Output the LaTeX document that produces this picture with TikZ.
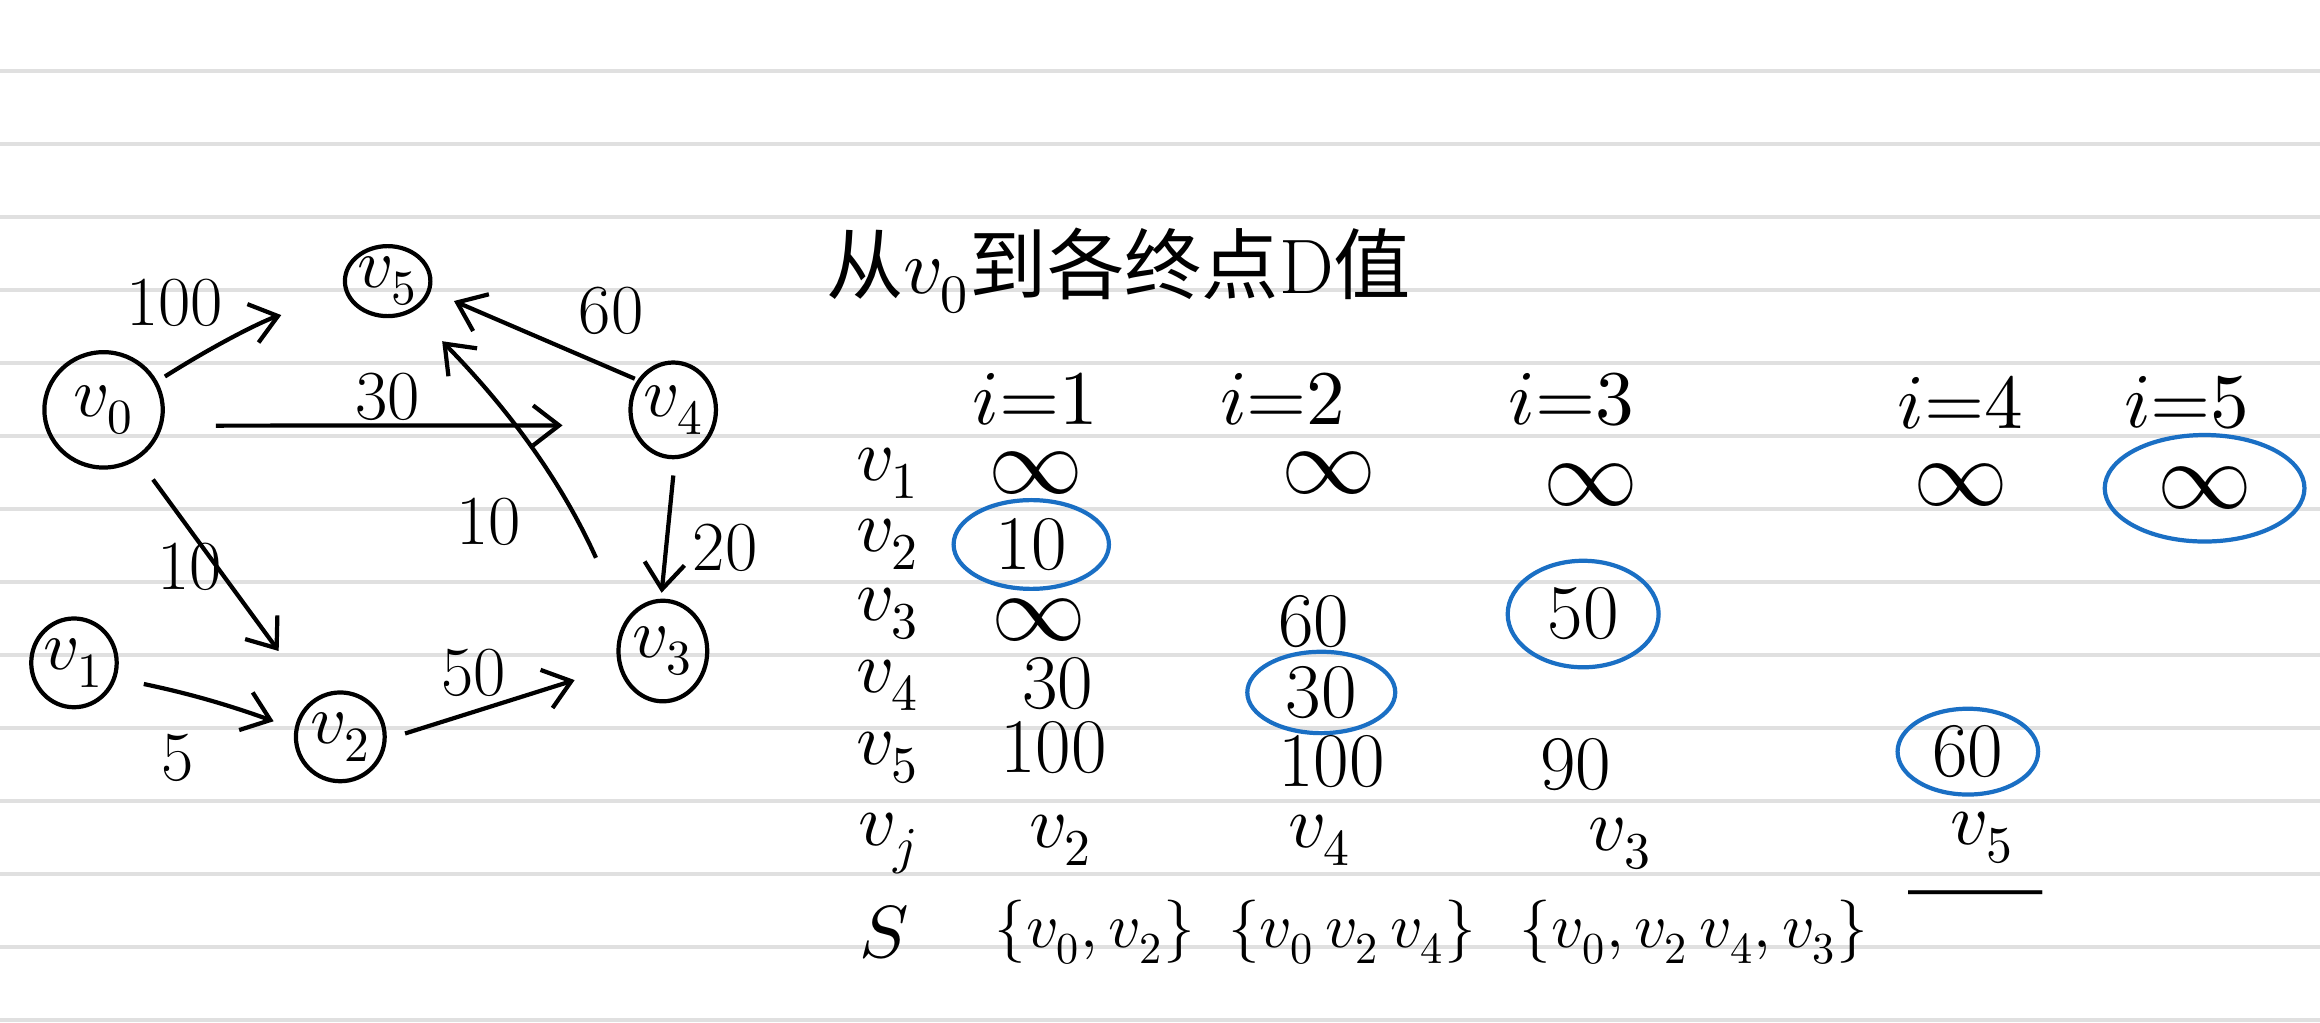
\documentclass[tikz,border=0pt]{standalone}
\usepackage{fontspec}
\usepackage{unicode-math}
\newfontfamily\cjk{Noto Sans CJK SC}
\usetikzlibrary{arrows.meta,shapes.geometric}
\newlength\pxu
\setlength\pxu{0.148mm}
\definecolor{hlblue}{HTML}{1A6FC4}
\definecolor{rulegray}{HTML}{E0E0E0}
\tikzset{
  vert/.style={draw, ellipse, line width=1.2pt, inner sep=0pt, font=\fontsize{20}{24}\selectfont},
  arr/.style={line width=1.2pt, -{Straight Barb[length=2.6mm,width=4mm,line width=1.2pt]}},
  lab/.style={inner sep=0pt, font=\fontsize{20}{24}\selectfont},
  cell/.style={inner sep=0pt, font=\fontsize{22}{26}\selectfont},
  setcell/.style={inner sep=0pt, font=\fontsize{18}{22}\selectfont},
  rowlab/.style={inner sep=0pt, font=\fontsize{21}{24}\selectfont},
  inf/.style={inner sep=0pt, font=\fontsize{27}{30}\selectfont},
  hl/.style={draw=hlblue, ellipse, line width=1.2pt},
  rule/.style={draw=rulegray, line width=0.4mm}
}
\begin{document}
\begin{tikzpicture}[x=\pxu, y=-\pxu]
\fill[white] (0,0) rectangle (1568,691);
\useasboundingbox (0,0) rectangle (1568,691);
\foreach \k in {0,...,13} {
  \draw[rule] (0,{48+49.34*\k}) -- (1568,{48+49.34*\k});
}
% graph nodes
\node[vert, minimum width=54\pxu, minimum height=46\pxu] (v5) at (262,190) {$v_5$};
\node[vert, minimum width=80\pxu, minimum height=78\pxu] (v0) at (70,277) {$v_0$};
\node[vert, minimum width=56\pxu, minimum height=64\pxu] (v4) at (455,277) {$v_4$};
\node[vert, minimum width=46\pxu, minimum height=60\pxu] (v1) at (50,448) {$v_1$};
\node[vert, minimum width=60\pxu, minimum height=60\pxu] (v2) at (230,498) {$v_2$};
\node[vert, minimum width=60\pxu, minimum height=68\pxu] (v3) at (448,440) {$v_3$};
% edges
\draw[arr, shorten <=6\pxu, shorten >=46\pxu] (v0.28) to[bend left=8] (v5.200);
\draw[arr, shorten <=36\pxu, shorten >=46\pxu] (v0.-15) -- (v4.200);
\draw[arr, shorten <=17\pxu, shorten >=40\pxu] (v0.-55) -- (v2.125);
\draw[arr, shorten <=19\pxu, shorten >=15\pxu] (v1.-20) to[bend left=4] (v2.170);
\draw[arr, shorten <=13\pxu, shorten >=31\pxu] (v2.-3) -- (v3.199);
\draw[arr, shorten <=2\pxu, shorten >=17\pxu] (v4.140) -- (v5.-13);
\draw[arr, shorten <=47\pxu, shorten >=28\pxu] (v3.142) to[bend right=10] (v5.-50);
\draw[arr, shorten <=11\pxu, shorten >=4\pxu] (v4.-88) -- (v3.92);
% edge labels
\node[lab] (l05) at (118,205) {100};
\node[lab] (l04) at (262,268) {30};
\node[lab] (l02) at (128,383) {10};
\node[lab] (l12) at (120,512) {5};
\node[lab] (l23) at (320,455) {50};
\node[lab] (l45) at (413,210) {60};
\node[lab] (l35) at (330,353) {10};
\node[lab] (l43) at (490,370) {20};
% title
\node[inner sep=0pt, font=\fontsize{22}{26}\selectfont] (title) at (756,183) {{\cjk 从}$v_0${\cjk 到各终点}D{\cjk 值}};
% headers
\node[cell] (h1) at (700,270) {$i{=}1$};
\node[cell] (h2) at (867,270) {$i{=}2$};
\node[cell] (h3) at (1062,270) {$i{=}3$};
\node[cell] (h4) at (1325,272) {$i{=}4$};
\node[cell] (h5) at (1478,272) {$i{=}5$};
% row labels
\node[rowlab] (r1) at (600,320) {$v_1$};
\node[rowlab] (r2) at (600,368) {$v_2$};
\node[rowlab] (r3) at (600,415) {$v_3$};
\node[rowlab] (r4) at (600,463) {$v_4$};
\node[rowlab] (r5) at (600,512) {$v_5$};
\node[rowlab] (rj) at (600,570) {$v_j$};
\node[rowlab] (rs) at (598,630) {$S$};
% row v1
\node[inf] (a11) at (700,320) {$\infty$};
\node[inf] (a12) at (898,320) {$\infty$};
\node[inf] (a13) at (1075,328) {$\infty$};
\node[inf] (a14) at (1325,328) {$\infty$};
\node[inf, hl, minimum width=135\pxu, minimum height=72\pxu] (a15) at (1490,330) {$\infty$};
% row v2
\node[cell, hl, minimum width=105\pxu, minimum height=60\pxu] (a21) at (697,368) {10};
% row v3
\node[inf] (a31) at (702,419) {$\infty$};
\node[cell] (a32) at (888,420) {60};
\node[cell, hl, minimum width=102\pxu, minimum height=72\pxu] (a33) at (1070,415) {50};
% row v4
\node[cell] (a41) at (715,462) {30};
\node[cell, hl, minimum width=100\pxu, minimum height=55\pxu] (a42) at (893,468) {30};
% row v5
\node[cell] (a51) at (712,505) {100};
\node[cell] (a52) at (900,515) {100};
\node[cell] (a53) at (1065,517) {90};
\node[cell, hl, minimum width=95\pxu, minimum height=58\pxu] (a54) at (1330,508) {60};
% row vj
\node[rowlab] (j1) at (717,568) {$v_2$};
\node[rowlab] (j2) at (892,568) {$v_4$};
\node[rowlab] (j3) at (1095,570) {$v_3$};
\node[rowlab] (j4) at (1340,566) {$v_5$};
% row S
\node[setcell] (s1) at (740,630) {$\{v_0,v_2\}$};
\node[setcell] (s2) at (914,630) {$\{v_0\,v_2\,v_4\}$};
\node[setcell] (s3) at (1145,630) {$\{v_0,v_2\,v_4,v_3\}$};
\node[inner sep=0pt, font=\fontsize{34}{36}\selectfont\bfseries] (s4) at (1335,614) {---};
\end{tikzpicture}
\end{document}
